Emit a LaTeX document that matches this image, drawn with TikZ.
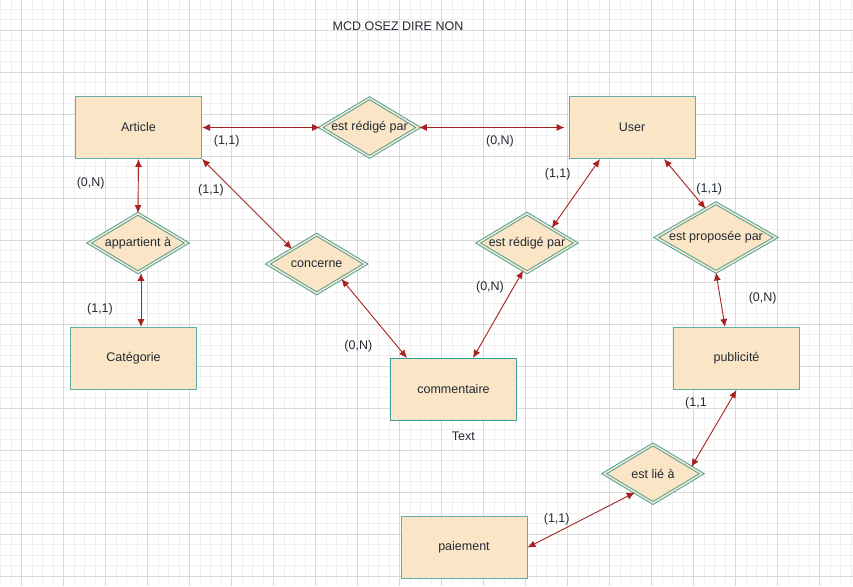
\documentclass[tikz,border=0pt]{standalone}
\usepackage{fontspec}
\setmainfont{Liberation Sans}
\usetikzlibrary{shapes.geometric,arrows.meta}
\definecolor{entfill}{HTML}{FAE5C7}
\definecolor{entline}{HTML}{62AFA8}
\definecolor{assline}{HTML}{3E9F99}
\definecolor{linkred}{HTML}{A82222}
\definecolor{gridminor}{HTML}{F0F0F0}
\definecolor{gridmajor}{HTML}{D9D9D9}
\definecolor{txt}{HTML}{222A33}

\tikzset{enode/.style = {shape = rectangle,
                         draw = entline,
                         fill = entfill,
                         line width = 1pt,
                         minimum width = 126pt,
                         minimum height = 62pt,
                         text = txt,
                         font = \fontsize{12.5}{15}\selectfont},
         anode/.style = {shape = diamond,
                         draw = assline,
                         fill = entfill,
                         double = entfill,
                         double distance = 1.6pt,
                         line width = 0.9pt,
                         shape aspect = 1.67,
                         inner sep = 0pt,
                         minimum width = 98pt,
                         minimum height = 59pt,
                         text = txt,
                         font = \fontsize{12.5}{15}\selectfont},
         cnode/.style = {text = txt,
                         inner sep = 0pt,
                         font = \fontsize{12.5}{15}\selectfont},
         lnk/.style = {color = linkred,
                       line width = 0.9pt,
                       {Latex[length=8pt,width=7pt]}-{Latex[length=8pt,width=7pt]}}}

\begin{document}
\begin{tikzpicture}[x=1pt,y=-1pt]
		\useasboundingbox (0,0) rectangle (853,586);
		\fill[white] (0,0) rectangle (853,586);
		\foreach \gx in {0.5,11,...,853} \draw[gridminor,line width=0.8pt] (\gx,0) -- (\gx,586);
		\foreach \gy in {-1.5,9,...,586} \draw[gridminor,line width=0.8pt] (0,\gy) -- (853,\gy);
		\foreach \gx in {21.5,63.5,...,853} \draw[gridmajor,line width=0.8pt] (\gx,0) -- (\gx,586);
		\foreach \gy in {30,72,...,586} \draw[gridmajor,line width=0.8pt] (0,\gy) -- (853,\gy);

		\node[cnode] (title) at (398,26) {MCD OSEZ DIRE NON};

		\node[enode] (art) at (138.5,127.5) {Article};
		\node[enode] (user) at (632,127.5) {User};
		\node[enode] (cat) at (133.5,358.5) {Catégorie};
		\node[enode, draw=assline] (comm) at (453.5,389.5) {commentaire};
		\node[enode] (pub) at (736.5,358.5) {publicité};
		\node[enode] (pay) at (464,547.5) {paiement};

		\node[anode] (redige) at (369.5,127.5) {est rédigé par};
		\node[anode] (appart) at (138,243) {appartient à};
		\node[anode] (conc) at (316.7,264) {concerne};
		\node[anode] (redige2) at (527,243) {est rédigé par};
		\node[anode, minimum width=120pt, minimum height=69pt] (prop) at (716,237.5) {est proposée par};
		\node[anode] (lie) at (653,473.7) {est lié à};

		\node[cnode] (commtext) at (463.3,436.7) {Text};

		\node[cnode] (c1) at (226.7,141.7) {(1,1)};
		\node[cnode] (c2) at (90.7,183.3) {(0,N)};
		\node[cnode] (c3) at (211,190) {(1,1)};
		\node[cnode] (c4) at (500,141.7) {(0,N)};
		\node[cnode] (c5) at (557.7,174.3) {(1,1)};
		\node[cnode] (c6) at (709.3,189.3) {(1,1)};
		\node[cnode] (c7) at (490,287.3) {(0,N)};
		\node[cnode] (c8) at (762.7,298.3) {(0,N)};
		\node[cnode] (c9) at (100,309) {(1,1)};
		\node[cnode] (c10) at (358.3,346.7) {(0,N)};
		\node[cnode] (c11) at (696,403.3) {(1,1};
		\node[cnode] (c12) at (556.7,519) {(1,1)};

		\path[lnk] (art.east) edge (redige.west);
		\path[lnk] (redige.east) edge[shorten >=4pt] (user.west);
		\path[lnk] (art.south) edge (appart.north);
		\path[lnk] ([xshift=3pt]appart.south) edge ([xshift=7.5pt]cat.north);
		\path[lnk] (art.south east) edge (conc.north west);
		\path[lnk] (conc.south east) edge ([xshift=-46.5pt]comm.north);
		\path[lnk] (redige2.north east) edge ([xshift=-32pt]user.south);
		\path[lnk] (redige2.262) edge ([xshift=19.5pt]comm.north);
		\path[lnk] ([xshift=32pt]user.south) edge (prop.110);
		\path[lnk] (prop.south) edge ([xshift=-11.5pt]pub.north);
		\path[lnk] (pub.south) edge (lie.10);
		\path[lnk] (lie.226) edge (pay.east);
	\end{tikzpicture}
\end{document}
